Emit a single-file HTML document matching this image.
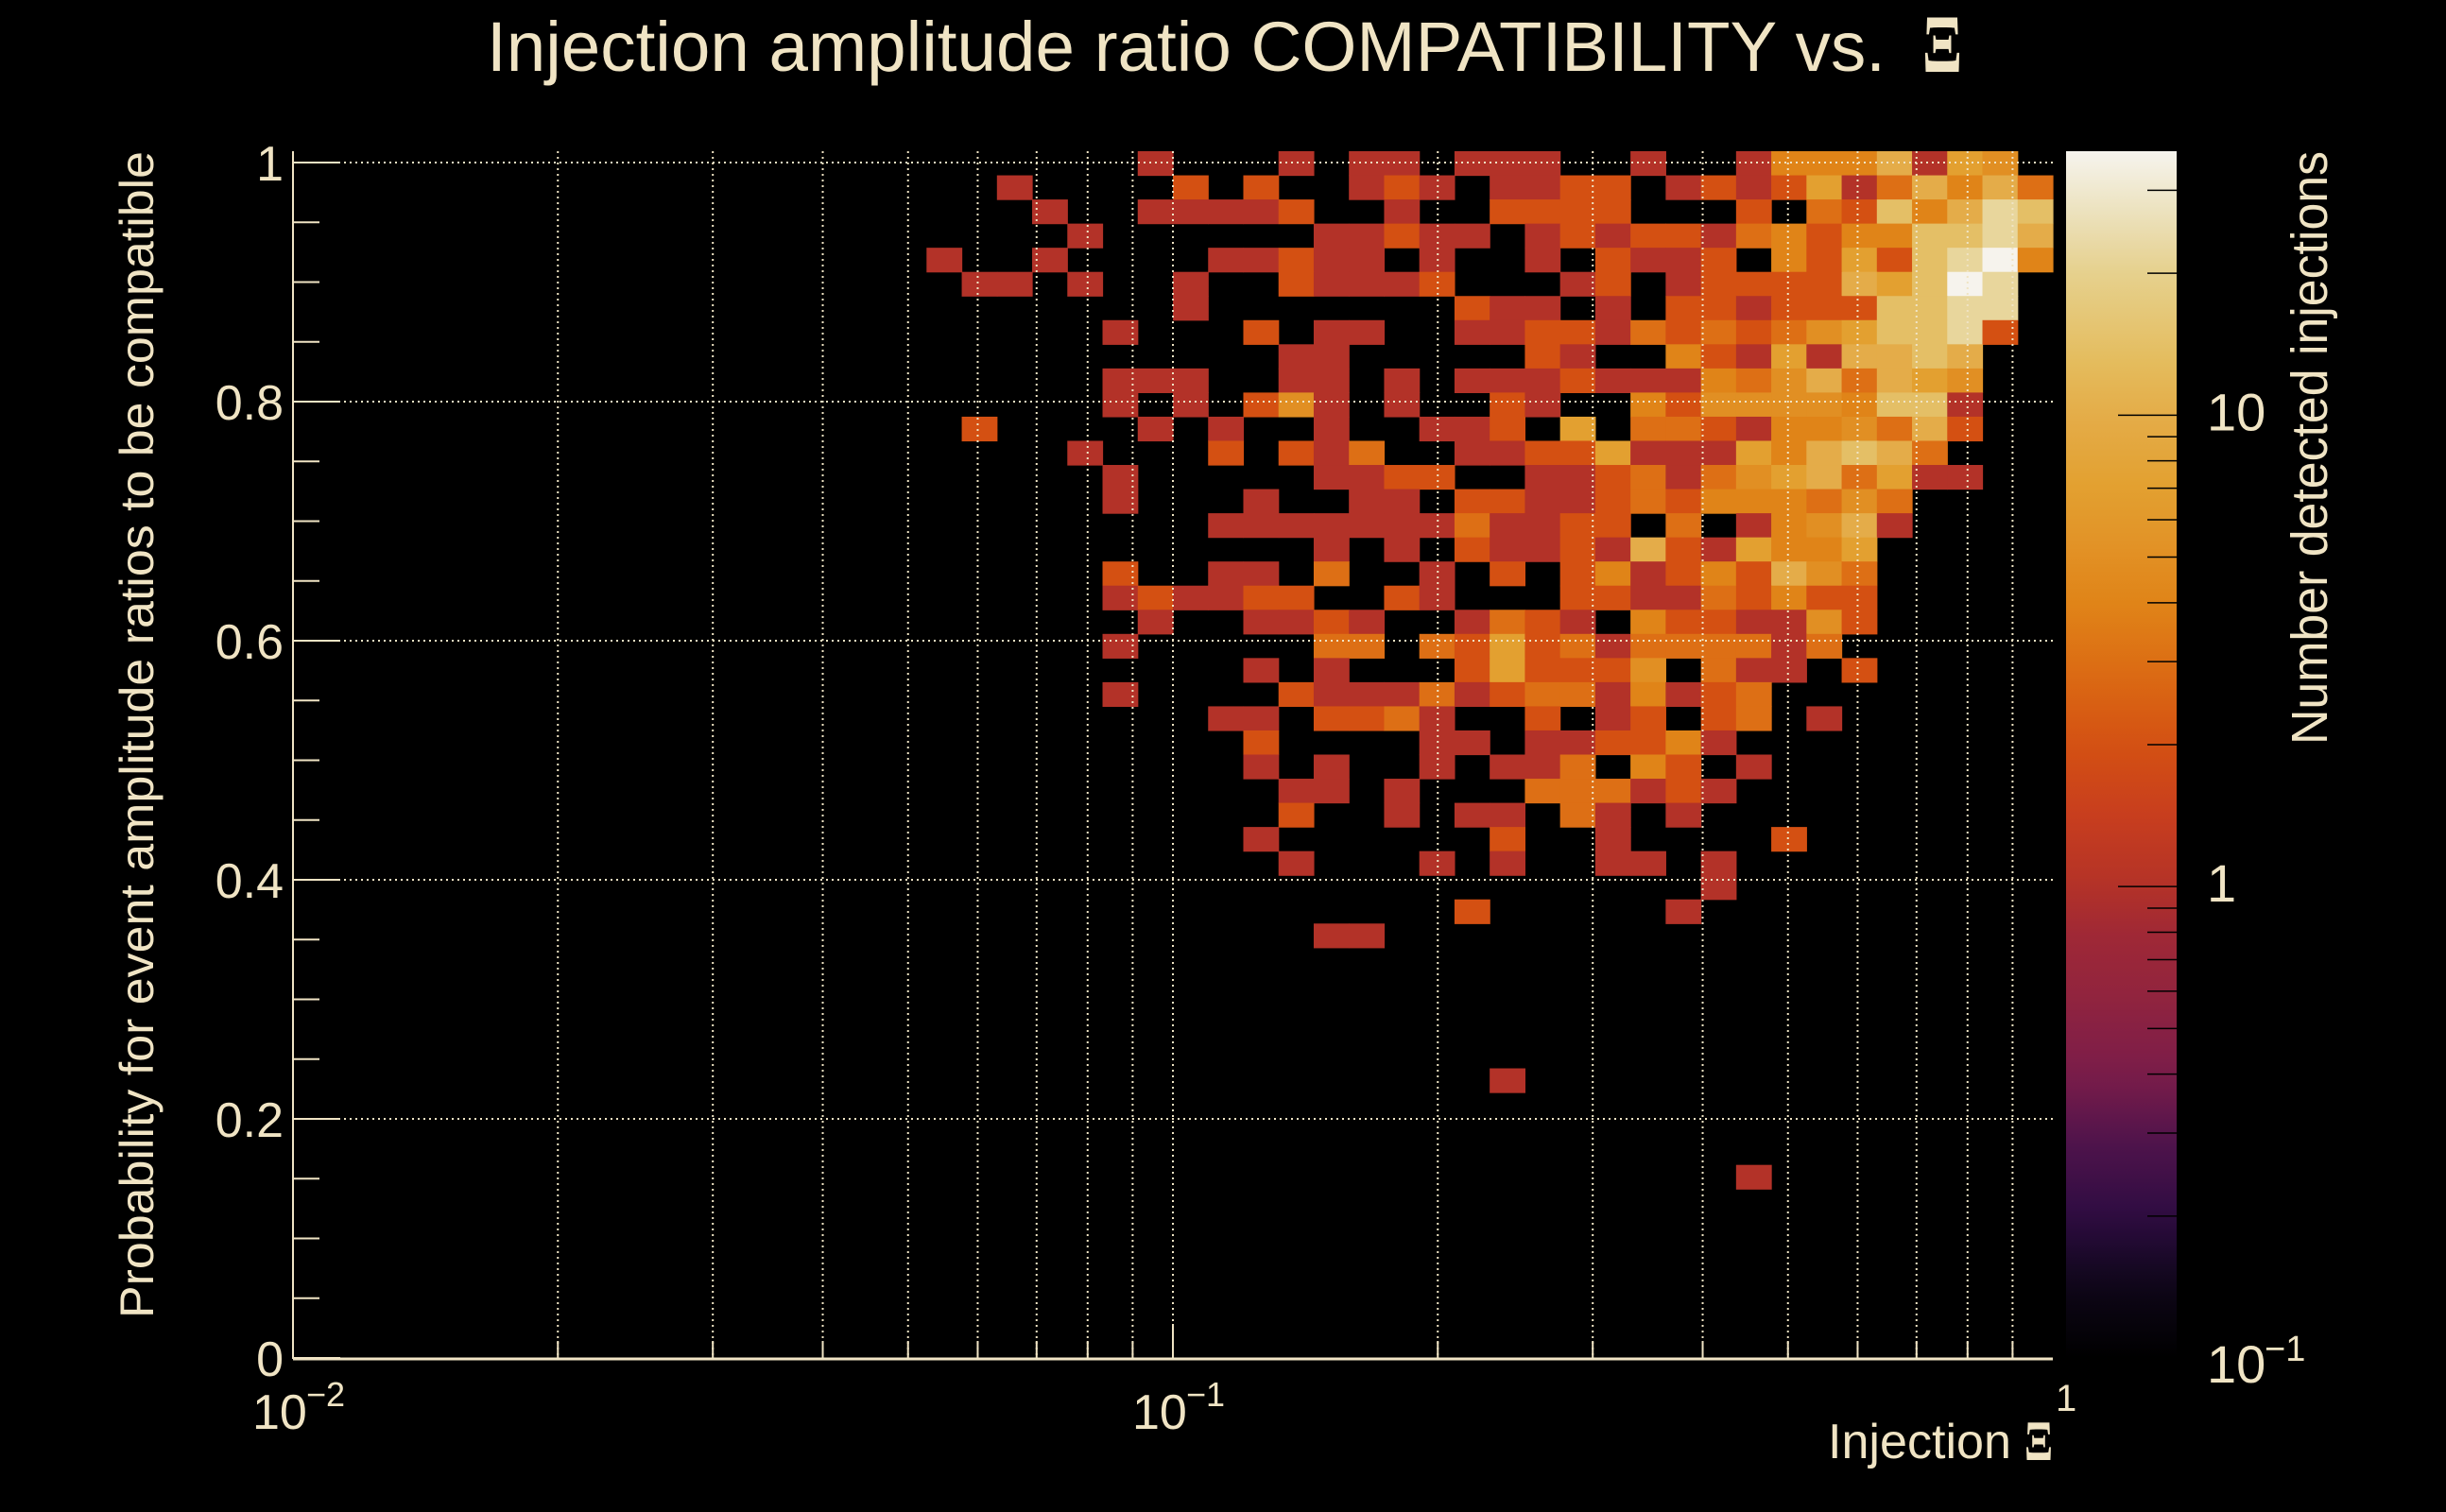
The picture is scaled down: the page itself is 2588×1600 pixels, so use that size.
<!DOCTYPE html>
<html><head><meta charset="utf-8">
<style>
html,body{margin:0;padding:0;background:#000;}
svg{display:block;}
text{font-family:"Liberation Sans",sans-serif;fill:#f0e4c4;}
</style></head>
<body>
<svg id="chart" width="2588" height="1600" viewBox="0 0 2588 1600" xmlns="http://www.w3.org/2000/svg">
<defs>
<linearGradient id="cbgrad" x1="0" y1="1" x2="0" y2="0"></linearGradient>
</defs>
<rect x="0" y="0" width="2588" height="1600" fill="#000"/>
<text x="515" y="75" font-size="74" textLength="1480" lengthAdjust="spacingAndGlyphs">Injection amplitude ratio COMPATIBILITY vs.</text>
<text x="2034" y="76" font-size="88" style="font-family:'Liberation Serif',serif;font-weight:bold" textLength="42" lengthAdjust="spacingAndGlyphs">Ξ</text>
<g id="cells"></g>
<g id="grid"></g>
<g id="axes"></g>
<g id="colorbar"></g>
<text transform="translate(162,1395) rotate(-90)" font-size="50" textLength="1235" lengthAdjust="spacingAndGlyphs">Probability for event amplitude ratios to be compatible</text>
<text x="1934" y="1543" font-size="52" textLength="194" lengthAdjust="spacingAndGlyphs">Injection</text>
<text x="2142" y="1545" font-size="60" style="font-family:'Liberation Serif',serif;font-weight:bold" textLength="30" lengthAdjust="spacingAndGlyphs">Ξ</text>
<text transform="translate(2462,160) rotate(-90)" text-anchor="end" font-size="54" textLength="628" lengthAdjust="spacingAndGlyphs">Number detected injections</text>
</svg>
<script>
const nXBins = 50;
const nYBins = 50;
const xLogMin = -2, xLogMax = 0;
const yValMax = 1.0095;
const rowCells = [
"24:1,28:1,30:1,31:1,33:1,34:1,35:1,38:1,41:1,42:4,43:4,44:4,45:10,46:1,47:7,48:5",
"20:1,25:2,27:2,30:1,31:2,32:1,34:1,35:1,36:2,37:2,39:1,40:2,41:1,42:2,43:7,44:1,45:3,46:10,47:4,48:10,49:3",
"21:1,24:1,25:1,26:1,27:1,28:2,31:1,34:2,35:2,36:2,37:2,41:2,43:3,44:2,45:14,46:4,47:10,48:22,49:14",
"22:1,29:1,30:1,31:2,32:1,33:1,35:1,36:2,37:1,38:2,39:2,40:1,41:3,42:4,43:2,44:4,45:4,46:14,47:14,48:22,49:10",
"18:1,21:1,26:1,27:1,28:2,29:1,30:1,32:1,35:1,37:2,38:1,39:1,40:2,42:4,43:2,44:7,45:2,46:14,47:22,48:36,49:4",
"19:1,20:1,22:1,25:1,28:2,29:1,30:1,31:1,32:2,36:1,37:2,39:1,40:2,41:2,42:2,43:2,44:10,45:7,46:14,47:36,48:22",
"25:1,33:2,34:1,35:1,37:1,39:2,40:2,41:1,42:2,43:2,44:2,45:14,46:14,47:22,48:22",
"23:1,27:2,29:1,30:1,33:1,34:1,35:2,36:2,37:1,38:3,39:2,40:3,41:2,42:3,43:5,44:7,45:14,46:14,47:22,48:2",
"28:1,29:1,35:2,36:1,39:4,40:2,41:1,42:7,43:1,44:10,45:10,46:14,47:10",
"23:1,24:1,25:1,28:1,29:1,31:1,33:1,34:1,35:1,36:2,37:1,38:1,39:1,40:4,41:3,42:5,43:10,44:3,45:10,46:7,47:5",
"23:1,25:1,27:2,28:5,29:1,31:1,34:2,35:1,38:4,39:2,40:5,41:5,42:5,43:5,44:4,45:14,46:14,47:1",
"19:2,24:1,26:1,29:1,32:1,33:1,34:2,36:7,38:3,39:3,40:2,41:1,42:4,43:4,44:5,45:3,46:10,47:2",
"22:1,26:2,28:2,29:1,30:3,33:1,34:1,35:2,36:2,37:7,38:1,39:1,40:1,41:7,42:4,43:10,44:14,45:10,46:3",
"23:1,29:1,30:1,31:2,32:2,35:1,36:1,37:2,38:3,39:1,40:3,41:5,42:7,43:10,44:3,45:7,46:1,47:1",
"23:1,27:1,30:1,31:1,33:2,34:2,35:1,36:1,37:2,38:3,39:2,40:4,41:4,42:4,43:3,44:5,45:3",
"26:1,27:1,28:1,29:1,30:1,31:1,32:1,33:3,34:1,35:1,36:2,37:2,39:3,41:1,42:4,43:5,44:10,45:1",
"29:1,31:1,33:2,34:1,35:1,36:2,37:1,38:10,39:2,40:1,41:7,42:4,43:4,44:7",
"23:2,26:1,27:1,29:3,32:1,34:2,36:2,37:4,38:1,39:2,40:4,41:2,42:10,43:5,44:3",
"23:1,24:2,25:1,26:1,27:2,28:2,31:2,32:1,36:2,37:2,38:1,39:1,40:3,41:2,42:4,43:2,44:2",
"24:1,27:1,28:1,29:2,30:1,33:1,34:3,35:2,36:1,38:4,39:2,40:2,41:1,42:1,43:5,44:2",
"23:1,29:3,30:3,32:3,33:2,34:7,35:2,36:3,37:1,38:3,39:3,40:3,41:3,42:1,43:3",
"27:1,29:1,33:2,34:7,35:2,36:2,37:2,38:5,40:3,41:1,42:1,44:2",
"23:1,28:2,29:1,30:1,31:1,32:3,33:1,34:2,35:3,36:3,37:1,38:4,39:1,40:2,41:3",
"26:1,27:1,29:2,30:2,31:3,32:1,35:2,37:1,38:2,40:2,41:3,43:1",
"27:2,32:1,33:1,35:1,36:1,37:2,38:2,39:4,40:1",
"27:1,29:1,32:1,34:1,35:1,36:3,38:4,39:2,41:1",
"28:1,29:1,31:1,35:3,36:3,37:3,38:1,39:2,40:1",
"28:2,31:1,33:1,34:1,36:3,37:1,39:1",
"27:1,34:2,37:1,42:2",
"28:1,32:1,34:1,37:1,38:1,40:1",
"40:1",
"33:2,39:1",
"29:1,30:1",
"","","","","",
"34:1",
"","","",
"41:1"
];
const yTickValues = [0, 0.2, 0.4, 0.6, 0.8, 1];
const yTickLabels = ["0", "0.2", "0.4", "0.6", "0.8", "1"];
const xDecades = [-2, -1, 0];
const cbMajor = [-1, 0, 1];
const cbLogMax = 1.56, cbLogMin = -1;

const PX0 = 310, PX1 = 2172, PY0 = 160, PY1 = 1437;
const NS = "http://www.w3.org/2000/svg";
function xPos(logv){ return PX0 + (logv - xLogMin) / (xLogMax - xLogMin) * (PX1 - PX0); }
function yPos(v){ return PY1 - v / yValMax * (PY1 - PY0); }
function colX(i){ return xPos(xLogMin + i * (xLogMax - xLogMin) / nXBins); }
function rowY(j){ return PY0 + j * (PY1 - PY0) / nYBins; }
const CBX0 = 2186, CBX1 = 2303;
function cbY(logv){ return PY1 - (logv - cbLogMin) / (cbLogMax - cbLogMin) * (PY1 - PY0); }

const stops = [
 [0.00,[0,0,0]],[0.06,[14,6,24]],[0.117,[46,12,66]],[0.18,[80,20,76]],[0.234,[122,28,74]],
 [0.30,[145,36,62]],[0.354,[160,40,53]],[0.39,[179,50,40]],[0.45,[200,62,30]],[0.508,[212,80,18]],
 [0.57,[220,108,20]],[0.626,[224,132,24]],[0.68,[226,148,40]],[0.722,[227,160,48]],[0.78,[228,172,72]],
 [0.823,[228,187,92]],[0.903,[230,210,144]],[0.95,[236,226,190]],[1.0,[246,244,238]]
];
function pal(t){
  t = Math.max(0, Math.min(1, t));
  for (let k = 1; k < stops.length; k++){
    if (t <= stops[k][0]){
      const a = stops[k-1], b = stops[k];
      const f = (t - a[0]) / (b[0] - a[0]);
      const c = a[1].map((v, i) => Math.round(v + (b[1][i] - v) * f));
      return "rgb(" + c.join(",") + ")";
    }
  }
  return "rgb(246,244,238)";
}
function countColor(c){ return pal((Math.log10(c) - cbLogMin) / (cbLogMax - cbLogMin)); }
function mk(tag, attrs, parent){
  const e = document.createElementNS(NS, tag);
  for (const k in attrs) e.setAttribute(k, attrs[k]);
  parent.appendChild(e);
  return e;
}

const gCells = document.getElementById("cells");
rowCells.forEach((row, j) => {
  if (!row) return;
  row.split(",").forEach(entry => {
    const parts = entry.split(":");
    const i = +parts[0], c = +parts[1];
    const x0 = colX(i), x1 = colX(i + 1), y0 = rowY(j), y1 = rowY(j + 1);
    const r = mk("rect", {x: x0.toFixed(2), y: y0.toFixed(2), width: (x1 - x0 + 0.6).toFixed(2), height: (y1 - y0 + 0.6).toFixed(2), fill: countColor(c)}, gCells);
    
    
  });
});

const gGrid = document.getElementById("grid");
const gridStyle = {stroke: "#f0e4c4", "stroke-width": 2, "stroke-dasharray": "2 4"};
for (let d = xDecades[0]; d < xDecades[xDecades.length - 1]; d++){
  for (let m = 1; m <= 9; m++){
    const x = xPos(d + Math.log10(m));
    if (m === 1 && d === xDecades[0]) continue;
    const l = mk("line", Object.assign({x1: x, x2: x, y1: PY0, y2: PY1}, gridStyle), gGrid);
    
    
  }
}
yTickValues.forEach(v => {
  if (v === 0) return;
  const y = yPos(v);
  const l = mk("line", Object.assign({x1: PX0, x2: PX1, y1: y, y2: y}, gridStyle), gGrid);
  
  
});

const gAx = document.getElementById("axes");
const axCol = "#f0e4c4";
let a1 = mk("line", {x1: PX0, x2: PX0, y1: PY0, y2: PY1 + 1, stroke: axCol, "stroke-width": 2}, gAx);


let a2 = mk("line", {x1: PX0, x2: PX1, y1: PY1 + 1, y2: PY1 + 1, stroke: axCol, "stroke-width": 3}, gAx);


for (let k = 0; k <= 20; k++){
  const v = k * 0.05;
  const y = yPos(v);
  const major = (k % 4 === 0);
  const t = mk("line", {x1: PX0, x2: PX0 + (major ? 50 : 28), y1: y, y2: y, stroke: axCol, "stroke-width": 2}, gAx);
  
  
}
yTickValues.forEach((v, k) => {
  const t = mk("text", {x: 300, y: yPos(v) + 19, "text-anchor": "end", "font-size": 52}, gAx);
  t.textContent = yTickLabels[k];
  
  
});
for (let d = xDecades[0]; d < xDecades[xDecades.length - 1]; d++){
  for (let m = 1; m <= 9; m++){
    const x = xPos(d + Math.log10(m));
    const t = mk("line", {x1: x, x2: x, y1: PY1, y2: PY1 - (m === 1 ? 36 : 18), stroke: axCol, "stroke-width": 2}, gAx);
    
    
  }
}
xDecades.forEach(d => {
  const x = xPos(d);
  if (d === 0){
    const t = mk("text", {x: x + 3, y: 1493, "font-size": 40}, gAx);
    t.textContent = "1";
    
    
    return;
  }
  const t = mk("text", {x: x - 43, y: 1512, "font-size": 52}, gAx);
  t.textContent = "10";
  
  
  const s = mk("text", {x: x + 14, y: 1488, "font-size": 36}, gAx);
  s.textContent = "\u2212" + (-d);
  
  
});

const grad = document.getElementById("cbgrad");
for (let k = 0; k <= 40; k++){
  const t = k / 40;
  mk("stop", {offset: t, "stop-color": pal(t)}, grad);
}
const gCb = document.getElementById("colorbar");
const cbr = mk("rect", {x: CBX0, y: PY0, width: CBX1 - CBX0, height: PY1 - PY0, fill: "url(#cbgrad)"}, gCb);


for (let d = -1; d <= 1; d++){
  for (let m = 1; m <= 9; m++){
    const lv = d + Math.log10(m);
    if (lv > cbLogMax || lv <= cbLogMin) continue;
    const y = cbY(lv);
    const t = mk("line", {x1: CBX1, x2: CBX1 - (m === 1 ? 62 : 31), y1: y, y2: y, stroke: "#000", "stroke-width": 1.5}, gCb);
    
    
  }
}
cbMajor.forEach(d => {
  const y = cbY(d);
  const t = mk("text", {x: 2335, y: y + (d === -1 ? 26 : 16), "font-size": 56}, gCb);
  t.textContent = d === 0 ? "1" : "10";
  
  
  if (d === -1){
    const s = mk("text", {x: 2396, y: y + 3, "font-size": 38}, gCb);
    s.textContent = "\u22121";
    
    
  }
});
</script>
</body></html>
